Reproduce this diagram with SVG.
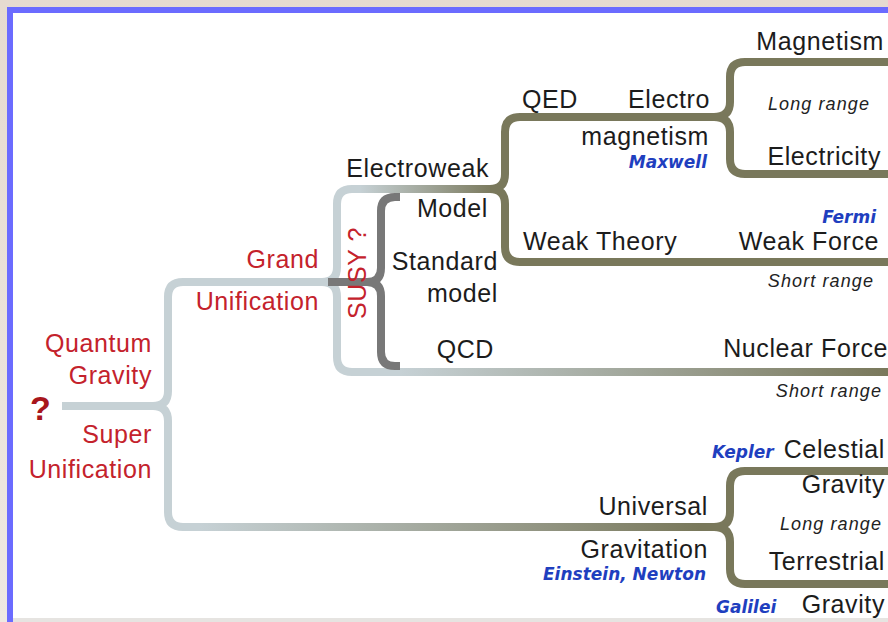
<svg xmlns="http://www.w3.org/2000/svg" width="888" height="622" viewBox="0 0 888 622">
<defs>
<style>
.t{font-family:"Liberation Sans",Arial,sans-serif;font-size:25px;letter-spacing:0.6px;fill:#1c1c1c}
.r{fill:#c4222c}
.e{text-anchor:end}
.i{font-family:"Liberation Sans",Arial,sans-serif;font-size:18px;font-style:italic;letter-spacing:1.1px;fill:#222}
.b{font-family:"DejaVu Sans",Verdana,sans-serif;font-size:17px;font-style:italic;font-weight:bold;fill:#1f3fbf}
.c{fill:none;stroke-width:8;stroke-linecap:butt;stroke-linejoin:round}
.lt{stroke:#c6d1d5}
.ol{stroke:#79785b}
.dk{stroke:#787878}
</style>
<linearGradient id="gEW" gradientUnits="userSpaceOnUse" x1="360" y1="0" x2="495" y2="0">
<stop offset="0" stop-color="#c6d1d5"/><stop offset="1" stop-color="#79785b"/>
</linearGradient>
<linearGradient id="gNF" gradientUnits="userSpaceOnUse" x1="400" y1="0" x2="888" y2="0">
<stop offset="0" stop-color="#c6d1d5"/><stop offset="1" stop-color="#79785b"/>
</linearGradient>
<linearGradient id="gUG" gradientUnits="userSpaceOnUse" x1="200" y1="0" x2="700" y2="0">
<stop offset="0" stop-color="#c6d1d5"/><stop offset="1" stop-color="#79785b"/>
</linearGradient>
<linearGradient id="bg" x1="0" y1="0" x2="0" y2="1">
<stop offset="0" stop-color="#e6dbd0"/><stop offset="1" stop-color="#efe9e2"/>
</linearGradient>
</defs>
<rect x="0" y="0" width="888" height="622" fill="url(#bg)"/>
<rect x="10" y="10" width="890" height="611" fill="#ffffff" stroke="#6b6bff" stroke-width="6"/>
<rect x="13" y="618" width="875" height="4" fill="#e6e4e1"/>

<g id="connectors">
<path class="c lt" d="M62,406 H153 Q168,406 168,391 V297 Q168,282 183,282 H322"/>
<path class="c lt" d="M153,406 Q168,406 168,421 V512 Q168,527 183,527 H200"/>
<path class="c" stroke="url(#gUG)" d="M199,527 H716"/>
<path class="c lt" d="M322,282 Q337,282 337,267 V204 Q337,189 352,189 H362"/>
<path class="c" stroke="url(#gEW)" d="M361,189 H492"/>
<path class="c lt" d="M322,282 Q337,282 337,297 V357 Q337,372 352,372 H402"/>
<path class="c" stroke="url(#gNF)" d="M401,372 H888"/>
<path class="c dk" d="M400,197 H395 Q381,197 381,211 V268 Q381,282 367,282 H328 M367,282 Q381,282 381,296 V352 Q381,366 395,366 H400"/>
<path class="c ol" d="M490,189 Q505,189 505,174 V132 Q505,117 520,117 H716"/>
<path class="c ol" d="M490,189 Q505,189 505,204 V247 Q505,262 520,262 H888"/>
<path class="c ol" d="M714,117 Q730,117 730,102 V77 Q730,62 745,62 H888"/>
<path class="c ol" d="M714,117 Q730,117 730,132 V159 Q730,174 745,174 H888"/>
<path class="c ol" d="M714,527 Q730,527 730,512 V486 Q730,471 745,471 H888"/>
<path class="c ol" d="M714,527 Q730,527 730,542 V569 Q730,584 745,584 H888"/>
</g>

<g id="root"><text x="30" y="420" style="font-family:'Liberation Sans',Arial,sans-serif;font-size:34px;font-weight:bold;fill:#a8161c">?</text></g>
<g id="quantum-gravity"><text class="t r e" x="152" y="352">Quantum</text><text class="t r e" x="152" y="384">Gravity</text></g>
<g id="super-unification"><text class="t r e" x="152" y="443">Super</text><text class="t r e" x="152" y="478">Unification</text></g>
<g id="grand-unification"><text class="t r e" x="319" y="268">Grand</text><text class="t r e" x="319" y="310">Unification</text></g>
<g id="susy"><text class="t r" transform="translate(366,319) rotate(-90)">SUSY ?</text></g>
<g id="electroweak"><text class="t e" x="489" y="177">Electroweak</text></g>
<g id="standard-model"><text class="t e" x="488" y="217">Model</text><text class="t e" x="498" y="270">Standard</text><text class="t e" x="498" y="302">model</text></g>
<g id="qcd"><text class="t e" x="494" y="358">QCD</text></g>
<g id="qed"><text class="t" x="522" y="108">QED</text></g>
<g id="electromagnetism"><text class="t e" x="710" y="108">Electro</text><text class="t e" x="709" y="145">magnetism</text><text class="b e" x="707" y="168">Maxwell</text></g>
<g id="magnetism"><text class="t e" x="884" y="50">Magnetism</text></g>
<g id="long-range-em"><text class="i e" x="870" y="110">Long range</text></g>
<g id="electricity"><text class="t e" x="881" y="165">Electricity</text></g>
<g id="weak-theory"><text class="t" x="523" y="250">Weak Theory</text></g>
<g id="weak-force"><text class="b e" x="876" y="223">Fermi</text><text class="t e" x="879" y="250">Weak Force</text><text class="i e" x="874" y="287">Short range</text></g>
<g id="nuclear-force"><text class="t e" x="888" y="357">Nuclear Force</text><text class="i e" x="882" y="397">Short range</text></g>
<g id="universal-gravitation"><text class="t e" x="708" y="515">Universal</text><text class="t e" x="708" y="558">Gravitation</text><text class="b e" x="706" y="580">Einstein, Newton</text></g>
<g id="celestial-gravity"><text class="b" x="712" y="458">Kepler</text><text class="t e" x="885" y="458">Celestial</text><text class="t e" x="885" y="493">Gravity</text></g>
<g id="long-range-grav"><text class="i e" x="882" y="530">Long range</text></g>
<g id="terrestrial-gravity"><text class="t e" x="885" y="570">Terrestrial</text><text class="b" x="716" y="613">Galilei</text><text class="t e" x="885" y="613">Gravity</text></g>
</svg>
